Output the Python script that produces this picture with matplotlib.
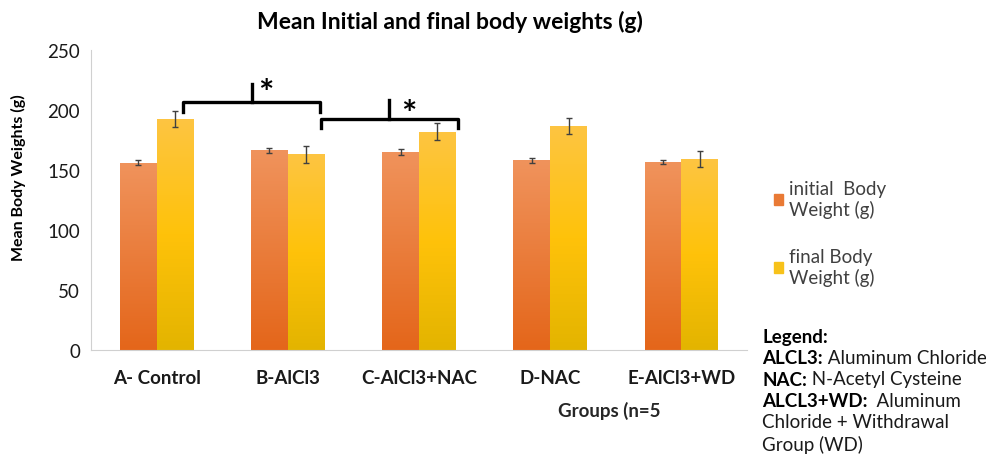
import numpy as np
import matplotlib.pyplot as plt
from matplotlib.colors import LinearSegmentedColormap
from matplotlib.patches import Patch

plt.rcParams['font.family'] = ['Lato', 'DejaVu Sans']

groups = ['A- Control', 'B-AlCl3', 'C-AlCl3+NAC', 'D-NAC', 'E-AlCl3+WD']
initial_w = [156, 166.5, 165, 158, 156.5]
initial_err = [2, 2, 2.2, 1.8, 1.8]
final_w = [192.5, 163, 182, 186.5, 159.5]
final_err = [6.7, 6.8, 6.8, 6.7, 6.7]

fig = plt.figure(figsize=(9.87, 4.56), dpi=100)
ax = fig.add_axes([0.0922, 0.2303, 0.6646, 0.6579])

x = np.arange(len(groups))
w = 0.28

# gradient fills like the excel chart
cm_init = LinearSegmentedColormap.from_list('ini', ['#E4661A', '#F0935C'])
cm_fin = LinearSegmentedColormap.from_list('fin', ['#E3B400', '#FFC20A', '#FDC542'])
grad = np.linspace(0, 1, 256).reshape(-1, 1)

def grad_bars(xs, vals, cmap):
    bars = ax.bar(xs, vals, w, color='none', edgecolor='none', zorder=2)
    for b in bars:
        x0, y0 = b.get_x(), b.get_y()
        im = ax.imshow(grad, cmap=cmap, origin='lower', aspect='auto',
                       extent=[x0, x0 + b.get_width(), y0, y0 + b.get_height()],
                       zorder=2)
        im.set_clip_path(b)
    return bars

grad_bars(x - w / 2, initial_w, cm_init)
grad_bars(x + w / 2, final_w, cm_fin)
ax.errorbar(x - w / 2, initial_w, yerr=initial_err, fmt='none', ecolor='#404040',
            elinewidth=1, capsize=2.5, capthick=1, zorder=3)
ax.errorbar(x + w / 2, final_w, yerr=final_err, fmt='none', ecolor='#404040',
            elinewidth=1, capsize=2.5, capthick=1, zorder=3)

ax.set_xlim(-0.5, len(groups) - 0.5)
ax.set_ylim(0, 250)
ax.set_yticks(range(0, 251, 50))
ax.set_xticks(x)
ax.set_xticklabels(groups, fontweight='bold', fontsize=13.5)
ax.tick_params(length=0, labelsize=13.5, colors='#1a1a1a')
ax.tick_params(axis='x', pad=14)
ax.tick_params(axis='y', pad=8)
for s in ['top', 'right']:
    ax.spines[s].set_visible(False)
for s in ['left', 'bottom']:
    ax.spines[s].set_color('#d0d0d0')
ax.set_facecolor('none')

# significance brackets
def bracket(x0, x1, xm, y, ydrop, ytop, xs, ys):
    ax.plot([x0, x0, x1, x1], [ydrop, y, y, ydrop], color='black', lw=2.4,
            clip_on=False, zorder=4, solid_joinstyle='round')
    ax.plot([xm, xm], [y, ytop], color='black', lw=2.4, clip_on=False, zorder=4)
    ax.text(xs, ys, '*', fontsize=26, fontweight='bold', ha='center', va='center')

bracket(0.2, 1.245, 0.725, 206.5, 198.5, 221.5, 0.83, 214)
bracket(1.253, 2.297, 1.77, 192.5, 185, 208.5, 1.924, 196)

fig.text(450 / 987, 1 - 22 / 456, 'Mean Initial and final body weights (g)',
         ha='center', va='center', fontsize=16.5, fontweight='bold')
fig.text(18 / 987, 1 - 178 / 456, 'Mean Body Weights (g)', rotation=90,
         ha='center', va='center', fontsize=11.5, fontweight='bold')
fig.text(609 / 987, 1 - 411 / 456, 'Groups (n=5', ha='center', va='center',
         fontsize=13.5, fontweight='bold', color='#262626')

handles = [Patch(color='#E97A35'), Patch(color='#F7C21A')]
fig.legend(handles, ['initial  Body\nWeight (g)', 'final Body\nWeight (g)'],
           loc='upper left', bbox_to_anchor=(774 / 987, 1 - 181 / 456),
           frameon=False, fontsize=13.5, labelcolor='#404040',
           handlelength=0.5, handleheight=0.5, handletextpad=0.3,
           labelspacing=1.6, borderpad=0, borderaxespad=0)

notes = [('Legend:', ''), ('ALCL3:', ' Aluminum Chloride'),
         ('NAC:', ' N-Acetyl Cysteine'), ('ALCL3+WD:', '  Aluminum'),
         ('', 'Chloride + Withdrawal'), ('', 'Group (WD)')]
for i, (b, t) in enumerate(notes):
    yy = 1 - (337 + 21.5 * i) / 456
    txt = fig.text(762 / 987, yy, b, fontsize=13.5, fontweight='bold', va='center')
    if t:
        fig.canvas.draw()
        bb = txt.get_window_extent()
        xx = (bb.x1 if b else 762) / 987
        fig.text(xx, yy, t, fontsize=13.5, va='center', color='#1a1a1a')

fig.savefig('out.png', dpi=100)
